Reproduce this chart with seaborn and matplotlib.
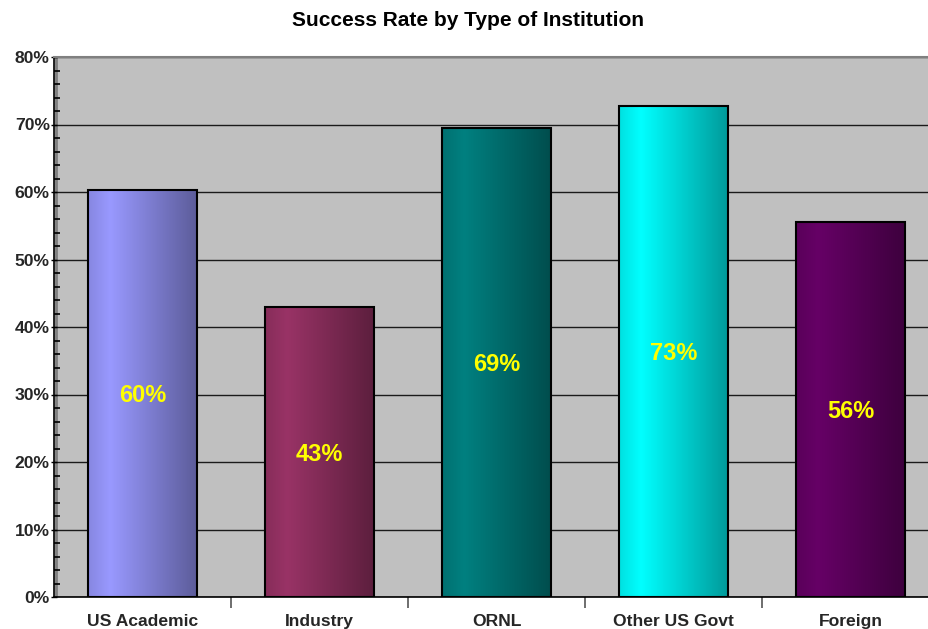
import numpy as np
import pandas as pd
import matplotlib
matplotlib.use("Agg")
import matplotlib.pyplot as plt
import seaborn as sns
from matplotlib.colors import to_rgb
from matplotlib.ticker import MultipleLocator, FixedLocator

categories = ["US Academic", "Industry", "ORNL", "Other US Govt", "Foreign"]
success_rate = [60.3, 42.9, 69.5, 72.7, 55.5]
value_labels = ["60%", "43%", "69%", "73%", "56%"]
bar_colors = ["#9999FF", "#993366", "#008080", "#00FFFF", "#660066"]
y_ticks = [0, 10, 20, 30, 40, 50, 60, 70, 80]
y_tick_labels = ["0%", "10%", "20%", "30%", "40%", "50%", "60%", "70%", "80%"]
title = "Success Rate by Type of Institution"

sns.set_theme(style="white")
plt.rcParams['font.family'] = ['Liberation Sans', 'DejaVu Sans']

fig = plt.figure(figsize=(9.29, 6.29), dpi=100)
fig.patch.set_facecolor("white")
ax = fig.add_axes([54/929, 32/629, 885/929, 540/629])
ax.set_facecolor("#C0C0C0")

df = pd.DataFrame({"category": categories, "rate": success_rate})
sns.barplot(data=df, x="category", y="rate", hue="category", order=categories,
            hue_order=categories, palette=bar_colors, width=0.62,
            edgecolor="black", linewidth=1.5, legend=False, ax=ax, saturation=1)

# horizontal gradient fill for each bar
xs = np.linspace(0, 1, 200)
profile = np.interp(xs, [0, 0.2, 1.0], [0.88, 1.0, 0.6])
for patch, col in zip(ax.patches, bar_colors):
    x0, y0 = patch.get_x(), patch.get_y()
    w, h = patch.get_width(), patch.get_height()
    rgb = np.array(to_rgb(col))
    img = (profile[:, None] * rgb[None, :])[None, :, :]
    im = ax.imshow(img, extent=[x0, x0 + w, y0, y0 + h], aspect="auto",
                   zorder=2.5, interpolation="bilinear")
    im.set_clip_path(patch)
    patch.set_facecolor("none")
    patch.set_zorder(3)

for i, (v, lab) in enumerate(zip(success_rate, value_labels)):
    ax.text(i, v / 2 - 0.3, lab, ha="center", va="center", color="#FFFF00",
            fontsize=17, fontweight="bold", zorder=5)

ax.set_xlim(-0.5, 4.5)
ax.set_ylim(0, 80)
ax.set_axisbelow(True)
ax.yaxis.grid(True, color="#1a1a1a", linewidth=1)
ax.xaxis.grid(False)

ax.set_yticks(y_ticks)
ax.set_yticklabels(y_tick_labels, fontsize=12.6, fontweight="bold")
ax.yaxis.set_minor_locator(MultipleLocator(2))
ax.tick_params(axis="y", which="major", direction="inout", length=4, width=1,
               color="black", pad=1, left=True)
ax.tick_params(axis="y", which="minor", direction="in", length=4, width=1.2,
               color="black", left=True)

ax.set_xticks(range(len(categories)))
ax.set_xticklabels(categories, fontsize=12.6, fontweight="bold")
ax.xaxis.set_minor_locator(FixedLocator([0.5, 1.5, 2.5, 3.5]))
ax.tick_params(axis="x", which="major", length=0, pad=12)
ax.tick_params(axis="x", which="minor", direction="out", length=8, width=1.2,
               color="#555555", bottom=True)

ax.set_xlabel("")
ax.set_ylabel("")
for s in ["left", "bottom"]:
    ax.spines[s].set_color("black")
    ax.spines[s].set_linewidth(1.2)
ax.spines["top"].set_color("#808080")
ax.spines["top"].set_linewidth(1.5)
ax.spines["right"].set_visible(False)
ax.plot([0.0025, 0.0025], [0, 1], transform=ax.transAxes, color="#808080",
        linewidth=2, zorder=0.3)

fig.text(468/929, 1 - 21/629, title, ha="center", va="center",
         fontsize=15, fontweight="bold", color="black")

fig.savefig("out.png", dpi=100)
